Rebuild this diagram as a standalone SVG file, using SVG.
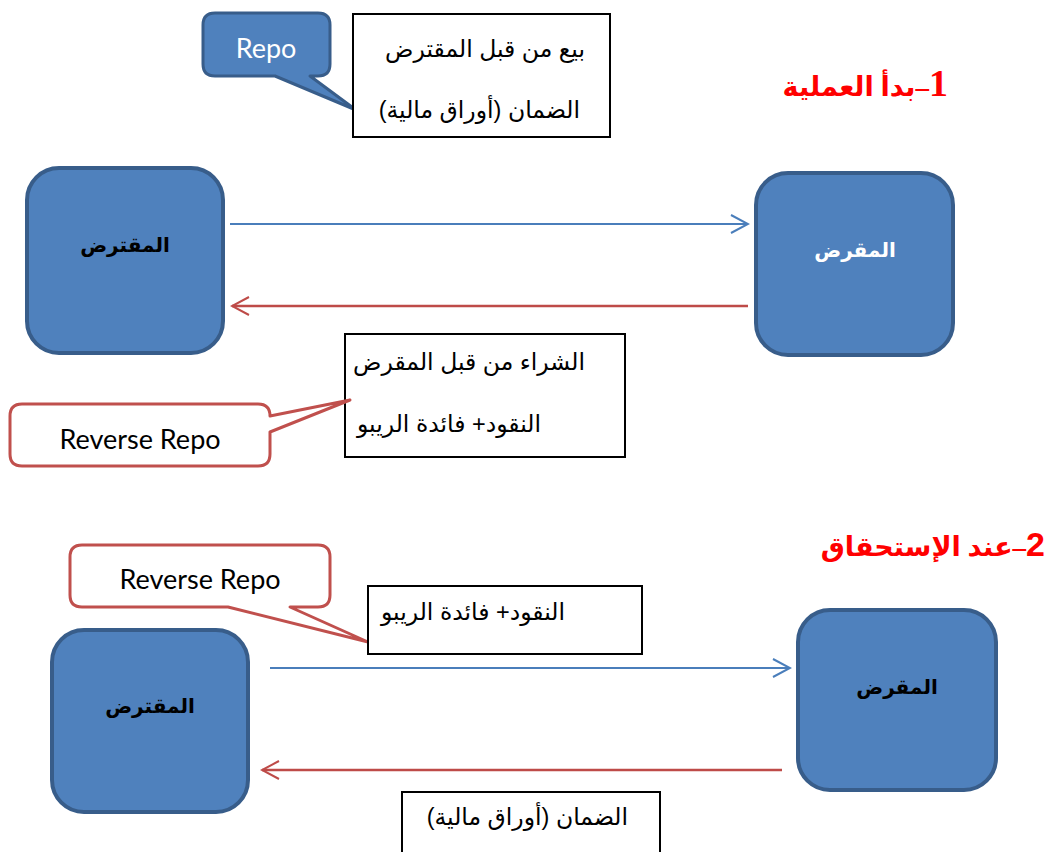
<svg xmlns="http://www.w3.org/2000/svg" width="1051" height="852" viewBox="0 0 1051 852">
  <defs>
    <marker id="headBlue" viewBox="0 0 20 20" refX="18" refY="10" markerWidth="20" markerHeight="20" markerUnits="userSpaceOnUse" orient="auto">
      <path d="M1,1 L18,10 L1,19" fill="none" stroke="#4a7ebb" stroke-width="2"/>
    </marker>
    <marker id="headRed" viewBox="0 0 20 20" refX="18" refY="10" markerWidth="20" markerHeight="20" markerUnits="userSpaceOnUse" orient="auto">
      <path d="M1,1 L18,10 L1,19" fill="none" stroke="#be4b48" stroke-width="2"/>
    </marker>
    <style>
      .party { fill: #4f81bd; stroke: #385d8a; stroke-width: 4; }
      .note { fill: #ffffff; stroke: #000000; stroke-width: 2; }
      .callBlue { fill: #4f81bd; stroke: #385d8a; stroke-width: 3; stroke-linejoin: round; }
      .callRed { fill: #ffffff; stroke: #c0504d; stroke-width: 3; stroke-linejoin: round; }
      .ar { font-family: "Liberation Sans", "DejaVu Sans", sans-serif; font-size: 23.5px; fill: #000; direction: rtl; }
      .arBold { font-family: "Liberation Sans", "DejaVu Sans", sans-serif; font-size: 20px; font-weight: bold; direction: rtl; }
      .lat { font-family: Lato, "Open Sans", sans-serif; font-size: 27px; }
      .head { font-family: "Liberation Serif", "DejaVu Sans", serif; font-size: 27px; font-weight: bold; fill: #ff0000; direction: rtl; }
      .head .num { font-size: 38px; }
      .head .num2 { font-family: "Liberation Sans", sans-serif; font-size: 34px; }
      .blue { stroke: #4a7ebb; stroke-width: 2; fill: none; }
      .red { stroke: #be4b48; stroke-width: 2.5; fill: none; }
    </style>
  </defs>

  <!-- Stage 1: opening the repo -->
  <text class="head" x="948" y="96" text-anchor="start"><tspan class="num">1</tspan>–بدأ العملية</text>

  <g id="borrower1">
    <rect class="party" x="27" y="168" width="196" height="185" rx="32"/>
    <text class="arBold" x="125" y="252" text-anchor="middle" fill="#000">المقترض</text>
  </g>

  <g id="lender1">
    <rect class="party" x="756" y="173" width="197" height="182" rx="32"/>
    <text class="arBold" x="855" y="257" text-anchor="middle" fill="#ffffff">المقرض</text>
  </g>

  <g id="repoCallout">
    <path class="callBlue" d="M215,13 H318 Q330,13 330,25 V64 Q330,76 318,76 H310 L356,110 L275,76 H215 Q203,76 203,64 V25 Q203,13 215,13 Z"/>
    <text class="lat" x="266" y="58" text-anchor="middle" fill="#ffffff">Repo</text>
  </g>

  <g id="saleNote">
    <rect class="note" x="353" y="14" width="257" height="123"/>
    <text class="ar" x="585" y="57" text-anchor="start">بيع من قبل المقترض</text>
    <text class="ar" x="580" y="118" text-anchor="start">الضمان (أوراق مالية)</text>
  </g>

  <g id="purchaseNote">
    <rect class="note" x="345" y="334" width="280" height="123"/>
    <text class="ar" x="585" y="370" text-anchor="start">الشراء من قبل المقرض</text>
    <text class="ar" x="541" y="432" text-anchor="start">النقود+ فائدة الريبو</text>
  </g>

  <g id="reverseCallout1">
    <path class="callRed" d="M22,404 H258 Q270,404 270,416 L350,400 L270,432 V454 Q270,466 258,466 H22 Q10,466 10,454 V416 Q10,404 22,404 Z"/>
    <text class="lat" x="140" y="449" text-anchor="middle" fill="#000">Reverse Repo</text>
  </g>

  <!-- Stage 2: at maturity -->
  <text class="head" x="1045" y="556" text-anchor="start"><tspan class="num2">2</tspan>–عند الإستحقاق</text>

  <g id="reverseCallout2">
    <path class="callRed" d="M82,545 H318 Q330,545 330,557 V595 Q330,607 318,607 H290 L368,642 L228,607 H82 Q70,607 70,595 V557 Q70,545 82,545 Z"/>
    <text class="lat" x="200" y="589" text-anchor="middle" fill="#000">Reverse Repo</text>
  </g>

  <g id="cashNote">
    <rect class="note" x="368" y="586" width="274" height="68"/>
    <text class="ar" x="565" y="620" text-anchor="start">النقود+ فائدة الريبو</text>
  </g>

  <g id="borrower2">
    <rect class="party" x="52" y="630" width="196" height="182" rx="32"/>
    <text class="arBold" x="150" y="713" text-anchor="middle" fill="#000">المقترض</text>
  </g>

  <g id="lender2">
    <rect class="party" x="798" y="610" width="198" height="180" rx="32"/>
    <text class="arBold" x="897" y="694" text-anchor="middle" fill="#000">المقرض</text>
  </g>

  <g id="collateralNote">
    <rect class="note" x="402" y="792" width="258" height="70"/>
    <text class="ar" x="628" y="825" text-anchor="start">الضمان (أوراق مالية)</text>
  </g>

  <g id="connectors">
    <line class="blue" x1="230" y1="224" x2="748" y2="224" marker-end="url(#headBlue)"/>
    <line class="red" x1="748" y1="306" x2="232" y2="306" marker-end="url(#headRed)"/>
    <line class="blue" x1="270" y1="668" x2="790" y2="668" marker-end="url(#headBlue)"/>
    <line class="red" x1="782" y1="770" x2="262" y2="770" marker-end="url(#headRed)"/>
  </g>
</svg>
